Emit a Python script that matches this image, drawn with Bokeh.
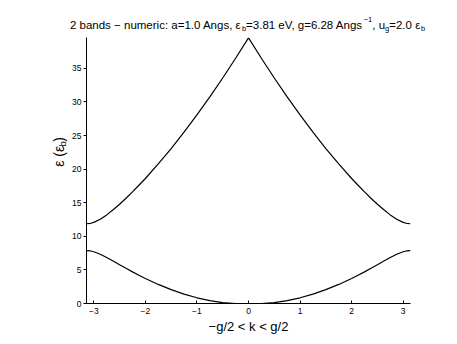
import math
from bokeh.plotting import figure
from bokeh.models import Range1d, FixedTicker
from bokeh.layouts import column, row
from bokeh.core.properties import value
from bokeh.embed import file_html
from bokeh.resources import INLINE

# data
k = [-3.1416, -3.0625, -3.0, -2.875, -2.75, -2.625, -2.5, -2.375, -2.25, -2.125, -2.0, -1.75, -1.5,
     -1.25, -1.0, -0.75, -0.5, -0.25, 0.0, 0.25, 0.5, 0.75, 1.0, 1.25, 1.5, 1.75, 2.0, 2.125,
     2.25, 2.375, 2.5, 2.625, 2.75, 2.875, 3.0, 3.0625, 3.1416]
lower_band = [7.87, 7.82, 7.70, 7.33, 6.85, 6.32, 5.78, 5.24, 4.71, 4.21, 3.73, 2.84, 2.06,
              1.40, 0.85, 0.43, 0.13, 0.0, 0.0, 0.0, 0.13, 0.43, 0.85, 1.40, 2.06, 2.84, 3.73, 4.21,
              4.71, 5.24, 5.78, 6.32, 6.85, 7.33, 7.70, 7.82, 7.87]
upper_band = [11.87, 11.94, 12.08, 12.55, 13.19, 13.95, 14.78, 15.67, 16.61, 17.60, 18.61, 20.78, 23.06,
              25.50, 28.07, 30.75, 33.57, 36.51, 39.55, 36.51, 33.57, 30.75, 28.07, 25.50, 23.06, 20.78, 18.61, 17.60,
              16.61, 15.67, 14.78, 13.95, 13.19, 12.55, 12.08, 11.94, 11.87]
x_ticks = [-3, -2, -1, 0, 1, 2, 3]
y_ticks = [0, 5, 10, 15, 20, 25, 30, 35]
x_label = "\u2212g/2 < k < g/2"
title_text = ["2 bands \u2212 numeric: a=1.0 Angs, ε", "b", "=3.81 eV, g=6.28 Angs", "\u22121",
              ", u", "g", "=2.0 ε", "b"]
ylabel_text = ["ε (ε", "b", ")"]

W, H = 457, 344
FL, FR, FT, FB = 84, 410, 37, 303  # frame edges in canvas px
YLW = 69                           # width of the y-label strip
FONT = "Liberation Sans"

# ---------- main plot ----------
p = figure(width=W - YLW, height=H - FT, output_backend="svg", toolbar_location=None,
           x_range=Range1d(-3.1416, 3.1416), y_range=Range1d(0, 39.6),
           min_border_left=FL - YLW, min_border_right=W - FR, min_border_top=0, min_border_bottom=H - FB)
p.outline_line_color = None
p.xgrid.visible = False
p.ygrid.visible = False
p.background_fill_color = "white"
p.border_fill_color = "white"

p.line(k, upper_band, line_color="black", line_width=1.2)
p.line(k, lower_band, line_color="black", line_width=1.2)

xa = p.xaxis[0]
xa.ticker = FixedTicker(ticks=x_ticks)
xa.major_label_overrides = {t: (str(t).replace("-", "\u2212")) for t in x_ticks}
xa.major_tick_in = 3
xa.major_tick_out = 0
xa.minor_tick_in = 0
xa.minor_tick_out = 0
xa.major_label_standoff = 4
xa.major_label_text_font = FONT
xa.major_label_text_font_size = "8.5px"
xa.major_label_text_color = "black"
xa.axis_label = x_label
xa.axis_label_text_font = FONT
xa.axis_label_text_font_size = "13px"
xa.axis_label_text_font_style = "normal"
xa.axis_label_text_color = "black"
xa.axis_label_standoff = 2
xa.axis_line_color = "black"
xa.major_tick_line_color = "black"

ya = p.yaxis[0]
ya.ticker = FixedTicker(ticks=y_ticks)
ya.major_tick_in = 0
ya.major_tick_out = 3
ya.minor_tick_in = 0
ya.minor_tick_out = 0
ya.major_label_standoff = 2
ya.major_label_text_font = FONT
ya.major_label_text_font_size = "8.5px"
ya.major_label_text_color = "black"
ya.axis_line_color = "black"
ya.major_tick_line_color = "black"

# character advance widths (per 1000 em) for Arial-metric fonts
CW = {' ': 278, '0': 556, '1': 556, '2': 556, '3': 556, '4': 556, '5': 556, '6': 556, '7': 556,
      '8': 556, '9': 556, 'a': 556, 'b': 556, 'c': 500, 'd': 556, 'e': 556, 'g': 556, 'i': 222,
      'm': 833, 'n': 556, 'r': 333, 's': 500, 'u': 556, 'k': 500, 'A': 667, 'V': 667, '.': 278,
      ',': 278, ':': 278, '=': 584, '\u2212': 584, 'ε': 500, '(': 333, ')': 333, '/': 278, '<': 584}


def tw(s, size):
    return sum(CW.get(c, 556) for c in s) / 1000.0 * size


def text_strip(w, h, x0, y0):
    f = figure(width=w, height=h, output_backend="svg", toolbar_location=None,
               x_range=Range1d(x0, x0 + w), y_range=Range1d(y0 + h, y0),
               x_axis_location=None, y_axis_location=None,
               min_border=0, min_border_left=0, min_border_right=0, min_border_top=0, min_border_bottom=0)
    f.outline_line_color = None
    f.xgrid.visible = False
    f.ygrid.visible = False
    f.background_fill_color = "white"
    f.border_fill_color = "white"
    return f


# ---------- title strip (coordinates = canvas px) ----------
tf = text_strip(W, FT, 0, 0)
TF, SF = 11.5, 7.5
t_sizes = [TF, SF, TF, SF, TF, SF, TF, SF]
t_shift = [0, 3.5, 0, -5, 0, 3.5, 0, 3.5]
total = sum(tw(t, s) for t, s in zip(title_text, t_sizes))
xx = (FL + FR) / 2.0 - total / 2.0
tx, ty = [], []
for t, s, d in zip(title_text, t_sizes, t_shift):
    tx.append(xx)
    ty.append(24 + d)
    xx += tw(t, s)
tf.text(x=tx, y=ty, text=title_text, text_font=value(FONT),
        text_font_size=[f"{s}px" for s in t_sizes], text_color="black",
        text_align="left", text_baseline="alphabetic")

# ---------- y-label strip ----------
yf = text_strip(YLW, H - FT, 0, FT)
YF, YS = 14, 9.5
y_sizes = [YF, YS, YF]
y_shift = [0, 3.5, 0]
ytotal = sum(tw(t, s) for t, s in zip(ylabel_text, y_sizes))
yy = (FT + FB) / 2.0 + ytotal / 2.0
lx, ly = [], []
for t, s, d in zip(ylabel_text, y_sizes, y_shift):
    lx.append(58 + d)
    ly.append(yy)
    yy -= tw(t, s) + (1.0 if t == "ε (ε" else 0.0)
yf.text(x=lx, y=ly, text=ylabel_text, text_font=value(FONT),
        text_font_size=[f"{s}px" for s in y_sizes], text_color="black",
        angle=math.pi / 2, text_align="left", text_baseline="alphabetic")

layout = column(tf, row(yf, p, spacing=0), spacing=0)
open("out.html", "w").write(file_html(layout, INLINE))
